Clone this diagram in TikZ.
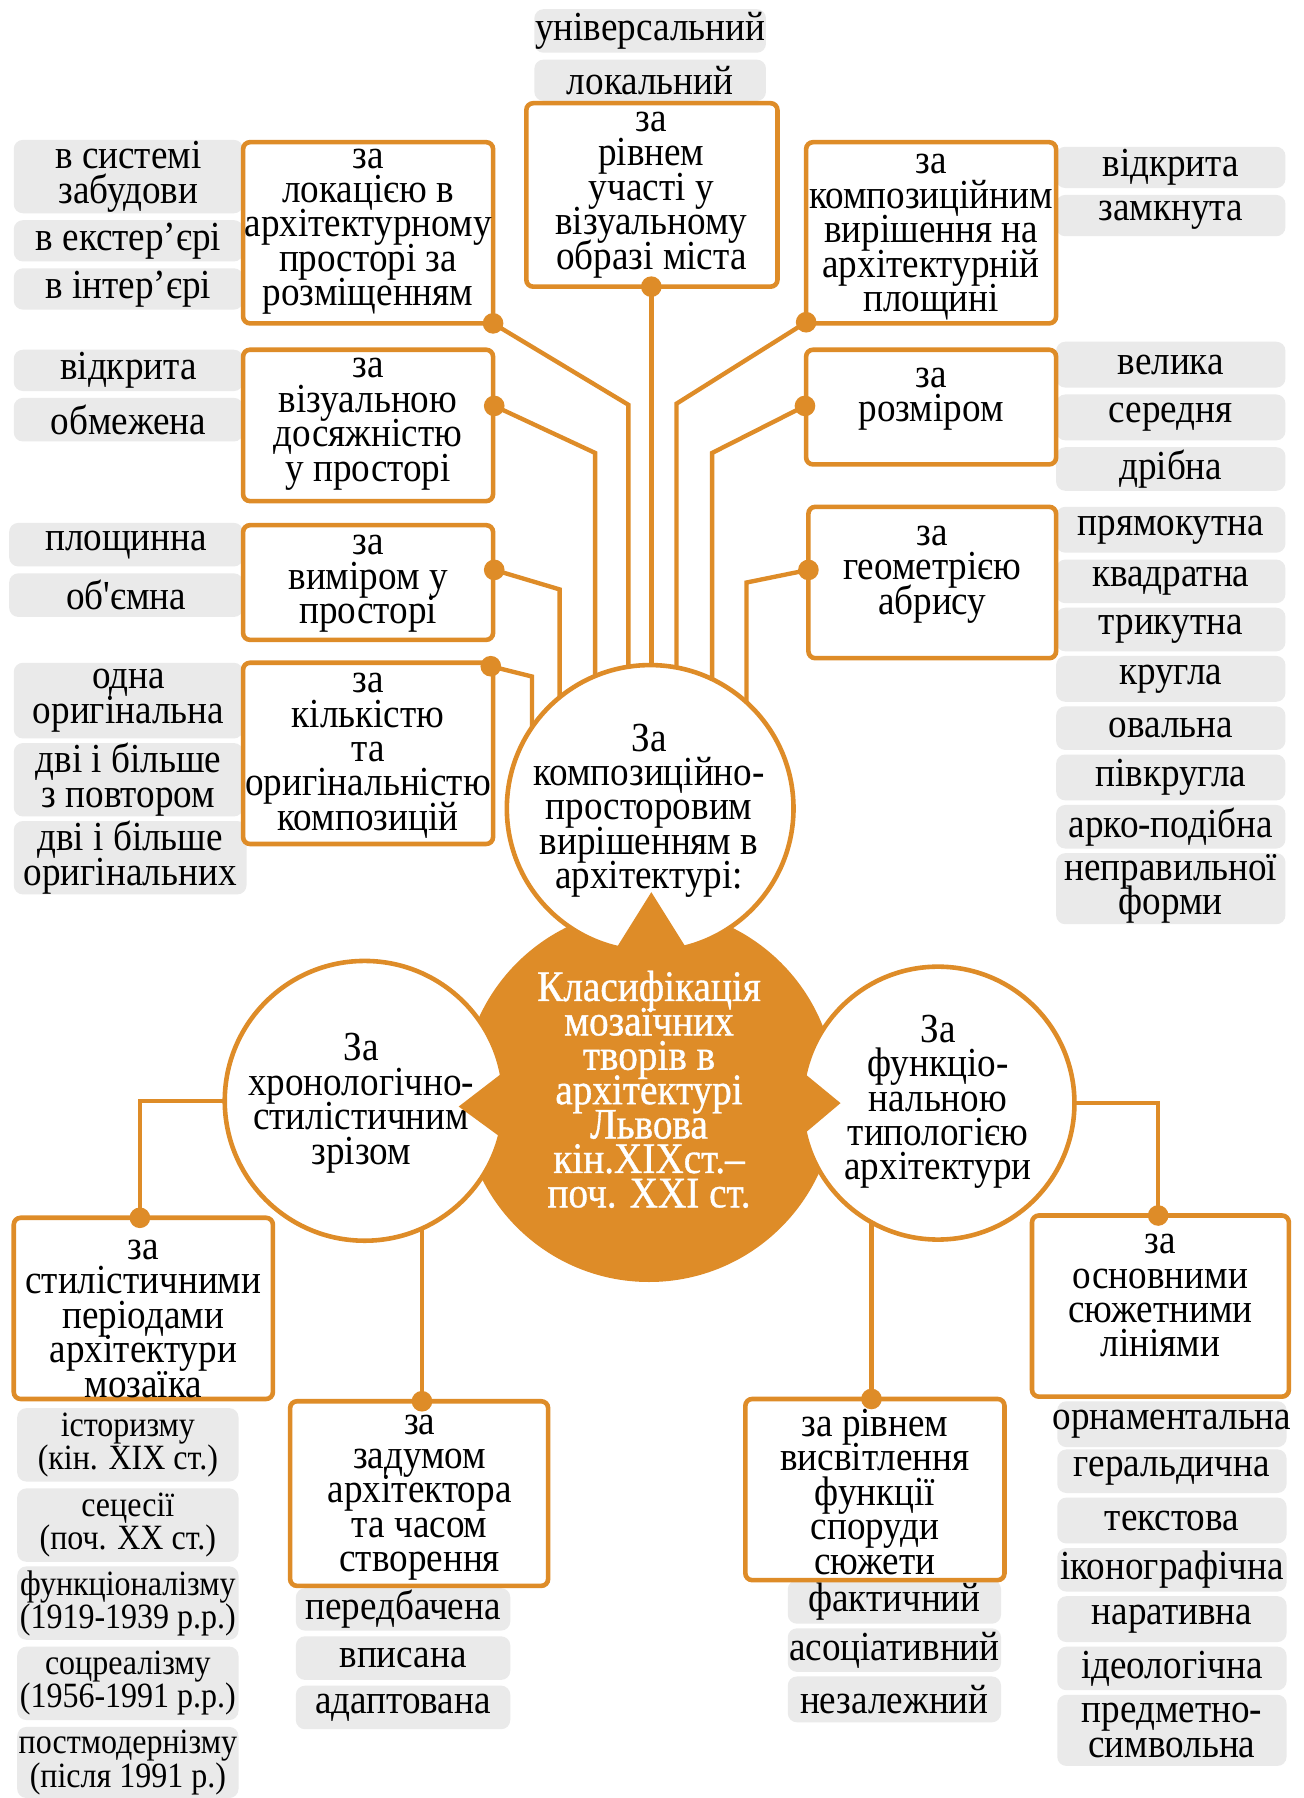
\documentclass[tikz,border=0pt]{standalone}
\usepackage{fontspec}
\setmainfont{Liberation Serif}[FakeStretch=0.9, Ligatures=TeXOff]
\newfontfamily\ctrfont{Liberation Serif}[FakeStretch=0.9, FakeBold=0.8]
\usetikzlibrary{fit}
\definecolor{orng}{RGB}{222,140,40}
\definecolor{greyb}{RGB}{234,234,234}
\newcommand\tightlines{\lineskiplimit=-100pt\relax\lineskip=0pt\relax}
\pgfdeclarelayer{bgzero}
\pgfdeclarelayer{background}
\pgfsetlayers{bgzero,background,main}
\newcommand\greybox[7]{\node[gbox,fit={(#2,#3) (#4,#5)}] (#1) {};\node[#7] (#1t) at (#1.center) {#6};}
\newcommand\orbox[8]{\node[obox,fit={(#2,#3) (#4,#5)}] (#1) {};\node[txt] (#1t) at (#6,#7) {#8};}
\begin{document}
\begin{tikzpicture}[x=0.5pt,y=-0.5pt,
 obox/.style={draw=orng, line width=2pt, fill=white, rounded corners=3pt, inner sep=0pt},
 gbox/.style={fill=greyb, rounded corners=4pt, inner sep=0pt},
 txt/.style={align=center, font=\fontsize{18}{15}\selectfont\tightlines, inner sep=0pt},
 stxt/.style={align=center, font=\fontsize{15.5}{14.5}\selectfont\tightlines, inner sep=0pt},
 ctxt/.style={align=center, font=\ctrfont\fontsize{19}{15}\selectfont\tightlines, text=white, inner sep=0pt},
 conn/.style={draw=orng, line width=1.9pt},
 dot/.style={circle, fill=orng, minimum size=9pt, inner sep=0pt},
 circ/.style={circle, draw=orng, line width=2pt, fill=white, inner sep=0pt},
 disk/.style={circle, fill=orng, inner sep=0pt}]
\useasboundingbox (0,0) rectangle (1137,1568);
\begin{pgfonlayer}{bgzero}
\fill[white] (0,0) rectangle (1137,1568);
\end{pgfonlayer}

% grey option boxes
\greybox{ga1}{466}{8}{668}{46}{універсальний}{txt}
\greybox{ga2}{466}{52}{668}{88}{локальний}{txt}
\greybox{gl1}{12}{122}{212}{186}{в системі\\забудови}{txt}
\greybox{gl2}{12}{192}{212}{228}{в екстер’єрі}{txt}
\greybox{gl3}{12}{234}{212}{270}{в інтер’єрі}{txt}
\greybox{gr1}{921}{128}{1121}{164}{відкрита}{txt}
\greybox{gr2}{921}{170}{1121}{206}{замкнута}{txt}
\greybox{gl4}{12}{305}{212}{341}{відкрита}{txt}
\greybox{gl5}{12}{347}{212}{385}{обмежена}{txt}
\greybox{gr3}{921}{298}{1121}{338}{велика}{txt}
\greybox{gr4}{921}{344}{1121}{384}{середня}{txt}
\greybox{gr5}{921}{390}{1121}{428}{дрібна}{txt}
\greybox{gl6}{8}{456}{212}{494}{площинна}{txt}
\greybox{gl7}{8}{500}{212}{538}{об'ємна}{txt}
\greybox{gr6}{921}{442}{1121}{482}{прямокутна}{txt}
\greybox{gr7}{921}{488}{1121}{526}{квадратна}{txt}
\greybox{gr8}{921}{530}{1121}{568}{трикутна}{txt}
\greybox{gr9}{921}{572}{1121}{612}{кругла}{txt}
\greybox{gr10}{921}{616}{1121}{654}{овальна}{txt}
\greybox{gr11}{921}{658}{1121}{698}{півкругла}{txt}
\greybox{gr12}{921}{702}{1121}{740}{арко-подібна}{txt}
\greybox{gr13}{921}{744}{1121}{806}{неправильної\\форми}{txt}
\greybox{gl8}{12}{578}{212}{644}{одна\\оригінальна}{txt}
\greybox{gl9}{12}{648}{212}{712}{дві і більше\\з повтором}{txt}
\greybox{gl10}{12}{716}{215}{780}{дві і більше\\оригінальних}{txt}
\greybox{gb1}{15}{1228}{208}{1292}{історизму\\(кін. XIX ст.)}{stxt}
\greybox{gb2}{15}{1298}{208}{1362}{сецесії\\(поч. XX ст.)}{stxt}
\greybox{gb3}{15}{1366}{208}{1430}{функціоналізму\\(1919-1939 р.р.)}{stxt}
\greybox{gb4}{15}{1436}{208}{1500}{соцреалізму\\(1956-1991 р.р.)}{stxt}
\greybox{gb5}{15}{1506}{208}{1568}{постмодернізму\\(після 1991 р.)}{stxt}
\greybox{gb6}{258}{1385}{445}{1422}{передбачена}{txt}
\greybox{gb7}{258}{1427}{445}{1465}{вписана}{txt}
\greybox{gb8}{258}{1470}{445}{1508}{адаптована}{txt}
\greybox{gb9}{687}{1378}{873}{1416}{фактичний}{txt}
\greybox{gb10}{687}{1420}{873}{1458}{асоціативний}{txt}
\greybox{gb11}{687}{1462}{873}{1502}{незалежний}{txt}
\greybox{gb12}{922}{1222}{1122}{1262}{орнаментальна}{txt}
\greybox{gb13}{922}{1264}{1122}{1302}{геральдична}{txt}
\greybox{gb14}{922}{1306}{1122}{1346}{текстова}{txt}
\greybox{gb15}{922}{1350}{1122}{1388}{іконографічна}{txt}
\greybox{gb16}{922}{1392}{1122}{1432}{наративна}{txt}
\greybox{gb17}{922}{1436}{1122}{1474}{ідеологічна}{txt}
\greybox{gb18}{922}{1478}{1122}{1540}{предметно-\\символьна}{txt}

% centre disk and circles
\node[disk, minimum size=163pt] (D) at (566,955) {};
\node[circ, minimum size=125pt] (C1) at (567,705) {};
\node[circ, minimum size=122pt] (C2) at (318,960) {};
\node[circ, minimum size=119pt] (C3) at (818,962) {};
\node[txt] (C1t) at (566,707) {За\\композиційно-\\просторовим\\вирішенням в\\архітектурі:};
\node[txt] (C2t) at (315,962) {За\\хронологічно-\\стилістичним\\зрізом};
\node[txt] (C3t) at (818,961) {За\\функціо-\\нальною\\типологією\\архітектури};
\fill[orng] (568,778) -- (528,842) -- (608,842) -- cycle;
\fill[orng] (400,965) -- (452,925) -- (452,1003) -- cycle;
\fill[orng] (733,962) -- (688,925) -- (688,1000) -- cycle;
\node[ctxt] (Dt) at (566,950) {Класифікація\\мозаїчних\\творів в\\архітектурі\\Львова\\кін.XIXст.–\\поч. XXI ст.};

% category boxes
\orbox{B1}{459}{90}{678}{250}{568}{170}{за\\рівнем\\участі у\\візуальному\\образі міста}
\orbox{B2}{212}{124}{430}{282}{321}{202}{за\\локацією в\\архітектурному\\просторі за\\розміщенням}
\orbox{B3}{703}{124}{921}{282}{812}{207}{за\\композиційним\\вирішення на\\архітектурній\\площині}
\orbox{B4}{212}{305}{430}{437}{321}{370}{за\\візуальною\\досяжністю\\у просторі}
\orbox{B5}{703}{305}{921}{405}{812}{348}{за\\розміром}
\orbox{B6}{212}{458}{430}{558}{321}{509}{за\\виміром у\\просторі}
\orbox{B7}{705}{442}{921}{574}{813}{501}{за\\геометрією\\абрису}
\orbox{B8}{212}{578}{430}{736}{321}{659}{за\\кількістю\\та\\оригінальністю\\композицій}
\orbox{B9}{12}{1062}{238}{1220}{125}{1150}{за\\стилістичними\\періодами\\архітектури\\мозаїка}
\orbox{B10}{253}{1222}{478}{1383}{366}{1306}{за\\задумом\\архітектора\\та часом\\створення}
\orbox{B11}{900}{1060}{1124}{1218}{1012}{1130}{за\\основними\\сюжетними\\лініями}
\orbox{B12}{650}{1220}{876}{1378}{763}{1301}{за рівнем\\висвітлення\\функції\\споруди\\сюжети}

% connector dots
\node[dot] (d1) at (568,250) {};
\node[dot] (d2) at (430,282) {};
\node[dot] (d3) at (703,281) {};
\node[dot] (d4) at (431,354) {};
\node[dot] (d5) at (702,354) {};
\node[dot] (d6) at (431,497) {};
\node[dot] (d7) at (705,497) {};
\node[dot] (d8) at (428,581) {};
\node[dot] (d9) at (122,1062) {};
\node[dot] (d10) at (368,1222) {};
\node[dot] (d11) at (1010,1060) {};
\node[dot] (d12) at (760,1220) {};

% bend points
\coordinate (k2) at (548,353);
\coordinate (k4) at (519,395);
\coordinate (k6) at (488,514);
\coordinate (k8) at (464,590);
\coordinate (k3) at (590,352);
\coordinate (k5) at (621,395);
\coordinate (k7) at (651,508);

\begin{pgfonlayer}{background}
\draw[conn] (d1.center) -- (d1.center |- C1.center);
\draw[conn] (d2.center) -- (k2) -- (k2 |- C1.center);
\draw[conn] (d4.center) -- (k4) -- (k4 |- C1.center);
\draw[conn] (d6.center) -- (k6) -- (k6 |- C1.center);
\draw[conn] (d8.center) -- (k8) -- (k8 |- C1.center);
\draw[conn] (d3.center) -- (k3) -- (k3 |- C1.center);
\draw[conn] (d5.center) -- (k5) -- (k5 |- C1.center);
\draw[conn] (d7.center) -- (k7) -- (k7 |- C1.center);
\draw[conn] (C2.center) -| (d9.center);
\draw[conn] (C2.center -| d10.center) -- (d10.center);
\draw[conn] (C3.center) -| (d11.center);
\draw[conn] (C3.center -| d12.center) -- (d12.center);
\end{pgfonlayer}
\end{tikzpicture}
\end{document}
